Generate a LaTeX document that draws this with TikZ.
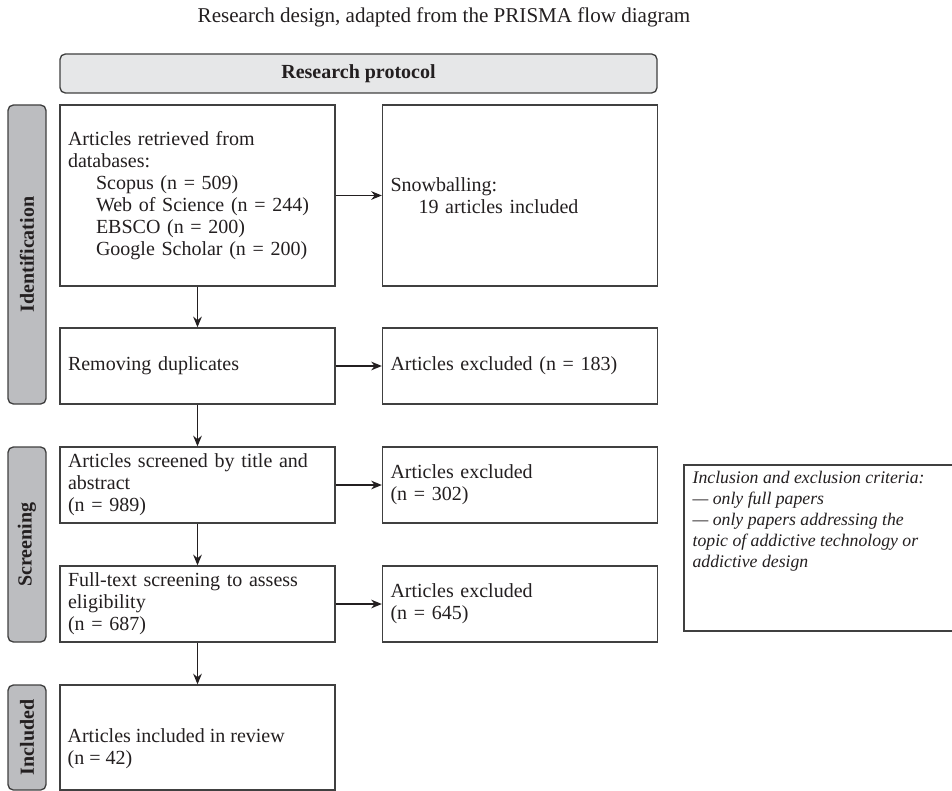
\documentclass[tikz,border=0pt]{standalone}
\usepackage{fontspec}
\setmainfont{Liberation Serif}
\usetikzlibrary{arrows.meta}
\definecolor{linec}{HTML}{404040}
\definecolor{tabfill}{HTML}{BCBDC0}
\definecolor{protofill}{HTML}{E6E7E8}
\definecolor{txtc}{HTML}{231F20}
\begin{document}
\begin{tikzpicture}[x=0.75pt,y=-0.75pt,
  every node/.style={font=\fontsize{15}{16.5}\selectfont, text=txtc},
  box/.style={draw=linec, line width=1pt, fill=white, rectangle, inner xsep=6pt, inner ysep=0pt,
    align=left, text width=194.25pt, minimum width=206.25pt},
  tab/.style={draw=linec, line width=1pt, fill=tabfill, rounded corners=4pt, rectangle,
    minimum height=28.5pt, inner sep=0pt, rotate=90, font=\bfseries\fontsize{15}{16.5}\selectfont},
  proto/.style={draw=linec, line width=1pt, fill=protofill, rounded corners=4pt, rectangle,
    minimum width=447.75pt, minimum height=29.25pt, font=\bfseries\fontsize{15}{16.5}\selectfont},
  plain/.style={align=left, inner sep=0pt},
  arr/.style={draw=txtc, line width=1pt, -{Stealth[length=8pt,width=6.5pt]}}
]
\useasboundingbox (0,0) rectangle (952,791);
\clip (0,0) rectangle (952,791);

% title
\node[font=\fontsize{15.8}{18}\selectfont] (title) at (444,17) {Research design, adapted from the PRISMA flow diagram};

% protocol
\node[proto] (proto) at (358.5,73.5) {Research protocol};

% phase tabs
\node[tab, minimum width=224.25pt] (tabid) at (27,254.5) {Identification};
\node[tab, minimum width=146.25pt] (tabsc) at (27,544.5) {Screening};
\node[tab, minimum width=78.75pt] (tabin) at (27,737.5) {Included};

% main column
\node[box, minimum height=135.75pt] (b1) at (197.5,195.5) {Articles retrieved from\\databases:\\
  \hspace*{21pt}Scopus (n = 509)\\
  \hspace*{21pt}Web of Science (n = 244)\\
  \hspace*{21pt}EBSCO (n = 200)\\
  \hspace*{21pt}Google Scholar (n = 200)};
\node[box, minimum height=57pt] (b2) at (197.5,366) {Removing duplicates};
\node[box, minimum height=57pt] (b3) at (197.5,485) {Articles screened by title and\\abstract\\(n = 989)};
\node[box, minimum height=57pt] (b4) at (197.5,604) {Full-text screening to assess\\eligibility\\(n = 687)};
\node[box, minimum height=78.75pt] (b5) at (197.5,737.5) {};
\node[plain, anchor=west] (b5t) at ([xshift=6pt,yshift=-8.5pt]b5.west) {Articles included in review\\(n = 42)};

% right column
\node[box, minimum height=135.75pt] (snow) at (520,195.5) {Snowballing:\\\hspace*{21pt}19 articles included};
\node[box, minimum height=57pt] (ex1) at (520,366) {Articles excluded (n = 183)};
\node[box, minimum height=57pt] (ex2) at (520,485) {Articles excluded\\(n = 302)};
\node[box, minimum height=57pt] (ex3) at (520,604) {Articles excluded\\(n = 645)};

% criteria
\node[draw=linec, line width=1pt, fill=white, rectangle, minimum width=213pt, minimum height=124.5pt] (crit) at (826,548) {};
\node[plain, anchor=north west, font=\itshape\fontsize{13.3}{15.75}\selectfont] (critt) at ([xshift=6.75pt,yshift=-5pt]crit.north west)
  {Inclusion and exclusion criteria:\\
   --- only full papers\\
   --- only papers addressing the\\
   topic of addictive technology or\\
   addictive design};

% connectors
\draw[arr] (b1.south) -- (b2.north);
\draw[arr] (b2.south) -- (b3.north);
\draw[arr] (b3.south) -- (b4.north);
\draw[arr] (b4.south) -- (b5.north);
\draw[arr] (b1.east) -- (snow.west);
\draw[arr] (b2.east) -- (ex1.west);
\draw[arr] (b3.east) -- (ex2.west);
\draw[arr] (b4.east) -- (ex3.west);
\end{tikzpicture}
\end{document}
